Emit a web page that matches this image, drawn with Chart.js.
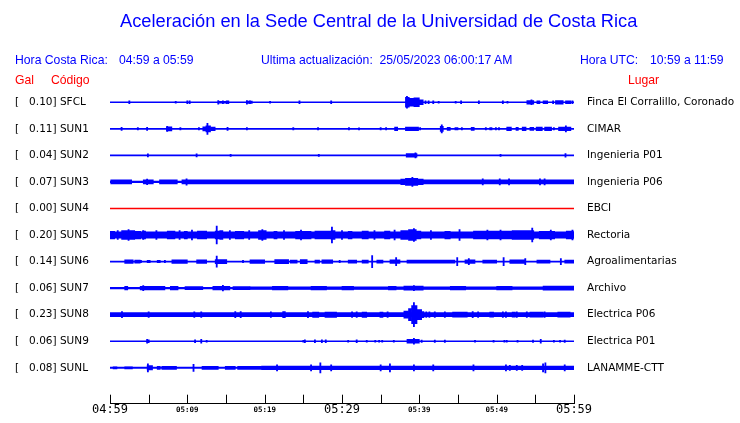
<!DOCTYPE html>
<html>
<head>
<meta charset="utf-8">
<script src="https://cdn.jsdelivr.net/npm/chart.js@4.4.1/dist/chart.umd.min.js"></script>
<style>
  html, body { margin: 0; padding: 0; background: #fff; }
  #wrap { position: relative; width: 740px; height: 423px; overflow: hidden; }
  canvas { position: absolute; left: 0; top: 0; }
  .t { position: absolute; white-space: pre; line-height: 1; font-family: 'Liberation Sans', Arial, sans-serif; }
  .blue { color: #0000ff; }
  .red { color: #ff0000; }
</style>
</head>
<body>
<div id="wrap">
  <canvas id="c" width="740" height="423"></canvas>
  <div class="t blue" style="left:120px; top:12px; font-size:18.25px;">Aceleración en la Sede Central de la Universidad de Costa Rica</div>
  <div class="t blue" style="left:15px; top:54px; font-size:12.2px;">Hora Costa Rica:</div>
  <div class="t blue" style="left:119px; top:54px; font-size:12.2px;">04:59 a 05:59</div>
  <div class="t blue" style="left:261px; top:54px; font-size:12.2px;">Ultima actualización:  25/05/2023 06:00:17 AM</div>
  <div class="t blue" style="left:580px; top:54px; font-size:12.2px;">Hora UTC:</div>
  <div class="t blue" style="left:650px; top:54px; font-size:12.2px;">10:59 a 11:59</div>
  <div class="t red" style="left:15px; top:74px; font-size:12.2px;">Gal</div>
  <div class="t red" style="left:51px; top:74px; font-size:12.2px;">Código</div>
  <div class="t red" style="left:628px; top:74px; font-size:12.2px;">Lugar</div>
</div>
<script>
// ---------------- DATA ----------------
// Station codes (top to bottom), peak acceleration (Gal) and location names
const CODES  = ['SFCL','SUN1','SUN2','SUN3','SUN4','SUN5','SUN6','SUN7','SUN8','SUN9','SUNL'];
const GAL    = ['0.10','0.11','0.04','0.07','0.00','0.20','0.14','0.06','0.23','0.06','0.08'];
const PLACES = ['Finca El Corralillo, Coronado','CIMAR','Ingenieria P01','Ingenieria P06','EBCI',
                'Rectoria','Agroalimentarias','Archivo','Electrica P06','Electrica P01','LANAMME-CTT'];

// Time axis: minutes after 04:59 (0..60), labels every 10 minutes, ticks every 5
const TICK_MINUTES = [0, 10, 20, 30, 40, 50, 60];
const TICK_LABELS  = ['04:59','05:09','05:19','05:29','05:39','05:49','05:59'];
const MAJOR_LABELS = ['04:59','05:29','05:59'];
const MINOR_TICKS  = [0, 5, 10, 15, 20, 25, 30, 35, 40, 45, 50, 55, 60];

// Background (continuous) noise amplitude of each trace (relative units)
const BASE_AMP = [0.5, 0.5, 0.5, 0.8, 0.5, 3.2, 0.6, 0.7, 2.0, 0.5, 0.7];

// Bursts: [start minute, end minute, amplitude]   Spikes: [minute, amplitude]
const SFCL_BURSTS = [[38.2,38.7,5],[38.7,39.3,4],[39.3,40.0,4.5],[40.0,40.5,2.5],[53.9,54.8,1.8],[55.2,55.6,1.5],
                     [56.0,56.6,1.5],[57.6,58.6,1.8],[58.9,59.6,1.5],[17.7,18.4,1.2],[14.0,15.3,1]];
const SFCL_SPIKES = [[2.5,1.5],[8.5,1],[10.0,1.5],[10.3,1.5],[14.0,1.8],[14.6,1.5],[15.1,1.5],[15.3,1.5],[17.7,1.8],
                     [18.1,1.5],[20.7,1],[24.5,1.5],[28.6,1.5],[38.4,6],[40.8,1.5],[41.2,1.5],[41.8,1.5],[42.5,1],
                     [44.7,1],[45.4,1.5],[47.7,1.5],[50.8,1.5],[51.4,1],[54.5,2.5],[57.3,1.5],[59.8,1.5]];

const SUN1_BURSTS = [[7.3,8.0,2],[12.0,12.4,2],[12.4,13.0,3],[13.0,13.6,1.8],[36.8,37.2,1.8],[38.2,39.9,1.8],
                     [42.7,43.1,2.5],[43.6,44.0,1.5],[44.6,45.0,1.2],[46.7,47.1,1.5],[49.1,49.4,1.2],[51.3,51.9,1.8],
                     [52.5,52.8,1.5],[53.3,53.8,1.8],[54.3,54.8,1.5],[55.1,55.9,1.8],[56.2,57.1,1.8],[58.0,59.6,1.8]];
const SUN1_SPIKES = [[1.5,1.5],[3.6,1.2],[4.8,1.5],[7.4,2.5],[9.1,1.2],[11.5,1.2],[12.6,5.5],[15.2,1.5],[17.7,1.2],
                     [23.7,1.2],[26.9,1.2],[30.9,1.2],[32.2,1],[35.0,1.2],[35.7,1.2],[40.1,1.2],[42.9,4],[45.5,1.2],
                     [48.6,1.2],[49.9,1.2],[50.3,1.2],[57.4,1.2],[58.95,3]];

const SUN2_BURSTS = [[38.3,39.7,1.8]];
const SUN2_SPIKES = [[4.9,1.5],[11.2,1.5],[15.6,1],[27.0,1],[39.5,2.5],[50.5,1],[58.9,1.8]];

const SUN3_BURSTS = [[0.1,2.8,2],[4.3,5.6,2],[6.4,8.7,2],[9.3,37.6,2],[37.6,38.2,2.8],[38.2,39.8,3.5],
                     [39.8,40.5,2.8],[40.5,60,2]];
const SUN3_SPIKES = [[4.8,2.8],[9.9,3.2],[39.1,4.5],[48.2,3],[50.4,3],[51.6,3],[55.6,3],[56.2,3]];

const SUN4_BURSTS = [];
const SUN4_SPIKES = [];

const SUN5_BURSTS = [[0.0,0.6,3.8],[1.5,3.2,4.5],[3.2,4.0,3.8],[4.2,4.6,4],[7.4,8.4,4],[9.6,10.0,3.8],[11.3,12.5,4],
                     [13.6,14.2,4],[14.2,14.6,4.5],[16.2,17.3,3.8],[19.2,20.2,4.5],[21.2,21.6,3.8],[24.0,26.0,3.8],
                     [26.5,28.6,4],[28.6,29.1,4.5],[30.8,31.3,3.8],[32.6,33.4,4],[35.5,36.2,4],[37.6,38.6,4.5],
                     [38.6,39.6,5.5],[39.6,40.2,4],[43.3,44.0,3.8],[47.0,52.0,4],[52.0,54.8,4.5],[55.5,57.5,3.8],
                     [59.0,59.9,4]];
const SUN5_SPIKES = [[1.0,4.5],[2.4,5.5],[4.3,4.5],[6.0,4.5],[9.0,4.5],[10.6,5],[13.8,9],[15.5,4.5],[18.0,4.5],
                     [19.7,5.5],[22.5,4.5],[24.7,5],[28.7,8],[30.0,4.5],[34.2,4.5],[36.8,5],[39.3,6.5],[41.5,4.5],
                     [45.2,5.5],[48.8,5],[50.5,5],[54.6,7],[57.0,5],[59.8,5]];

const SUN6_BURSTS = [[1.9,3.0,1.8],[3.2,3.9,1.5],[4.8,5.2,1.2],[6.1,6.5,1.2],[8.0,10.0,1.8],[11.2,12.5,1.8],
                     [13.6,15.1,2],[18.1,20.0,1.8],[21.3,23.1,2],[23.3,24.2,1.5],[24.6,25.5,2],[26.5,27.1,1.5],
                     [27.4,28.8,1.8],[30.8,31.9,1.5],[32.6,33.4,1.5],[34.5,35.3,1.5],[36.2,37.5,1.8],[38.4,44.6,1.5],
                     [45.9,47.2,1.8],[48.2,50.0,1.5],[51.7,53.7,1.8],[55.2,56.9,1.5],[58.8,60,1.5]];
const SUN6_SPIKES = [[4.0,1.2],[7.1,1.2],[13.8,5.5],[17.2,1.2],[29.7,1.2],[33.9,6],[37.0,4],[44.9,4],[46.4,3],
                     [50.9,4],[53.7,3],[58.3,3]];

const SUN7_BURSTS = [[1.9,2.3,1.8],[3.9,7.1,1.8],[7.8,8.8,1.8],[9.7,12.0,1.5],[13.3,15.5,1.8],[15.9,18.1,1.5],
                     [18.1,60,1.3],[21.0,23.0,1.8],[26.0,28.0,1.8],[30.0,31.5,1.8],[36.0,37.0,1.8],[38.0,40.5,2],
                     [44,46,1.8],[50,52,1.8],[56,60,2]];
const SUN7_SPIKES = [[4.3,2.5],[14.6,2.8],[39.3,2.5]];

const SUN8_BURSTS = [[26.2,27.0,2.6],[27.8,29.3,2.6],[32.6,33.2,2.6],[34.9,35.3,2.6],[38.0,38.6,3.5],[38.6,39.0,6],
                     [39.0,39.7,9],[39.7,40.3,5],[40.3,40.6,3],[44.3,46.2,2.5],[49.1,49.6,2.5],[52.0,52.4,2.5],
                     [54.3,56.0,2.5],[57.9,59.5,2.5]];
const SUN8_SPIKES = [[1.55,3],[5.0,2.8],[10.9,2.8],[11.8,2.8],[16.2,3],[16.9,3],[20.8,2.8],[22.4,3],[22.6,3],
                     [25.6,3],[31.3,2.8],[31.9,2.8],[35.9,2.8],[39.3,12],[40.9,2.8],[41.3,2.8],[42.0,2.8],[43.3,2.8],
                     [46.9,3],[47.6,2.8],[50.8,2.8],[51.2,2.8],[52.6,2.8],[53.9,2.8],[56.2,2.8]];

const SUN9_BURSTS = [[38.4,40.0,1.8]];
const SUN9_SPIKES = [[4.8,1.8],[5.0,1.5],[11.0,1.5],[11.8,1.8],[12.5,1],[25.0,1],[25.2,1.5],[26.5,1.5],[27.4,1.5],
                     [27.9,1.5],[30.8,1],[31.9,1.5],[33.2,1],[34.3,1],[34.8,1],[35.2,1],[36.7,1],[39.3,3],[40.3,1.2],
                     [42.0,1.2],[43.3,1.2],[47.2,1],[49.6,1],[51.0,1],[51.3,1],[52.7,1],[54.7,1.2],[55.7,1.8],
                     [57.4,1],[58.2,1],[58.8,1.2]];

const SUNL_BURSTS = [[0.4,0.9,1.0],[1.9,2.9,1.0],[4.8,5.5,2.2],[6.1,6.5,1.5],[6.7,8.6,1.5],[11.9,14.0,1.5],
                     [14.9,16.2,1.5],[16.5,19.6,1.5],[19.6,60,1.8]];
const SUNL_SPIKES = [[4.9,4],[10.8,3.5],[21.6,3],[26.0,3],[27.2,5],[28.6,3],[35.0,3],[36.2,4],[39.3,3],[41.8,3],
                     [47.0,3],[51.2,3],[51.7,2.5],[52.6,2.5],[53.3,2.5],[56.0,4],[56.3,5],[58.8,3]];

const BURSTS = [SFCL_BURSTS, SUN1_BURSTS, SUN2_BURSTS, SUN3_BURSTS, SUN4_BURSTS, SUN5_BURSTS,
                SUN6_BURSTS, SUN7_BURSTS, SUN8_BURSTS, SUN9_BURSTS, SUNL_BURSTS];
const SPIKES = [SFCL_SPIKES, SUN1_SPIKES, SUN2_SPIKES, SUN3_SPIKES, SUN4_SPIKES, SUN5_SPIKES,
                SUN6_SPIKES, SUN7_SPIKES, SUN8_SPIKES, SUN9_SPIKES, SUNL_SPIKES];

// ---------------- STYLE / LAYOUT ----------------
const BLUE = '#0000ff', RED = '#ff0000';
const TRACE_COLORS = CODES.map((c, i) => i === 4 ? RED : BLUE);
const AMP_PX = 1;          // pixels per amplitude unit (half height)
const SPIKE_WIDTH = 0.15;  // minutes
const TICK_LEN = 9;
const AREA = { top: 89, bottom: 409, left: 110, right: 574 };

// ---------------- BUILD ----------------
const items = [];
CODES.forEach((code, r) => {
  items.push({ row: r, t0: 0, t1: 60, amp: BASE_AMP[r] });
  BURSTS[r].forEach(([a, b, amp]) => items.push({ row: r, t0: a, t1: b, amp }));
  SPIKES[r].forEach(([t, amp]) => items.push({ row: r, t0: t - SPIKE_WIDTH / 2, t1: t + SPIKE_WIDTH / 2, amp }));
});
const groups = new Map();
items.forEach(it => {
  const k = String(it.amp);
  if (!groups.has(k)) groups.set(k, []);
  groups.get(k).push({ x: [it.t0, it.t1], y: it.row });
});
const datasets = [...groups.entries()]
  .sort((a, b) => parseFloat(a[0]) - parseFloat(b[0]))
  .map(([amp, data]) => ({
    data,
    barThickness: Math.max(1, 2 * parseFloat(amp) * AMP_PX),
    grouped: false,
    borderWidth: 0,
    borderSkipped: false,
    backgroundColor: ctx => TRACE_COLORS[ctx.raw ? ctx.raw.y : 0]
  }));

const ROWS = CODES.map((c, i) => i);
const Y_MIN = -0.5, Y_MAX = 10 + 36.5 / 27;
const noGrid = { display: false, drawTicks: false, tickLength: 0 };

const tickMarks = {
  id: 'tickMarks',
  afterDraw(chart) {
    const xs = chart.scales.x, ctx = chart.ctx;
    ctx.save();
    ctx.strokeStyle = '#000';
    ctx.lineWidth = 1;
    xs.ticks.forEach(t => {
      const px = Math.round(xs.getPixelForValue(t.value)) + 0.5;
      ctx.beginPath();
      ctx.moveTo(px, xs.top);
      ctx.lineTo(px, xs.top - TICK_LEN);
      ctx.stroke();
    });
    ctx.restore();
  }
};

const chart = new Chart(document.getElementById('c'), {
  type: 'bar',
  data: { datasets },
  options: {
    indexAxis: 'y',
    responsive: false,
    animation: false,
    devicePixelRatio: 1,
    layout: { padding: { left: 15, right: 0, top: AREA.top, bottom: 0 } },
    plugins: { legend: { display: false }, tooltip: { enabled: false } },
    scales: {
      x: {
        type: 'linear', position: 'bottom', min: 0, max: 60,
        grid: noGrid,
        border: { display: true, color: '#000', width: 1 },
        afterBuildTicks: s => { s.ticks = MINOR_TICKS.map(v => ({ value: v })); },
        afterFit: s => { s.height = 14; },
        ticks: {
          autoSkip: false, maxRotation: 0, padding: -1, color: '#000',
          callback: v => { const i = TICK_MINUTES.indexOf(v); return i >= 0 ? TICK_LABELS[i] : ''; },
          font: ctx => {
            const i = TICK_MINUTES.indexOf(ctx.tick ? ctx.tick.value : -1);
            const major = i >= 0 && MAJOR_LABELS.includes(TICK_LABELS[i]);
            return major ? { family: 'DejaVu Sans Mono', size: 12, lineHeight: 1.2 }
                         : { family: 'DejaVu Sans Mono', size: 7.5, weight: 'bold', lineHeight: 1.92 };
          }
        }
      },
      y: {
        type: 'linear', position: 'left', reverse: true, min: Y_MIN, max: Y_MAX, offset: false,
        grid: noGrid, border: { display: false },
        afterBuildTicks: s => { s.ticks = ROWS.map(v => ({ value: v })); },
        afterFit: s => { s.width = AREA.left - 15; },
        ticks: {
          crossAlign: 'far', color: '#000', autoSkip: false, padding: 0,
          font: { family: 'DejaVu Sans', size: 10.5 },
          callback: v => `[   ${GAL[v]}] ${CODES[v]}`
        }
      },
      yR: {
        type: 'linear', position: 'right', reverse: true, min: Y_MIN, max: Y_MAX, offset: false,
        grid: noGrid, border: { display: false },
        afterBuildTicks: s => { s.ticks = ROWS.map(v => ({ value: v })); },
        afterFit: s => { s.width = 740 - AREA.right; },
        ticks: {
          crossAlign: 'near', padding: 13, color: '#000', autoSkip: false,
          font: { family: 'DejaVu Sans', size: 10.5 },
          callback: v => PLACES[v]
        }
      }
    }
  },
  plugins: [tickMarks]
});
</script>
</body>
</html>
